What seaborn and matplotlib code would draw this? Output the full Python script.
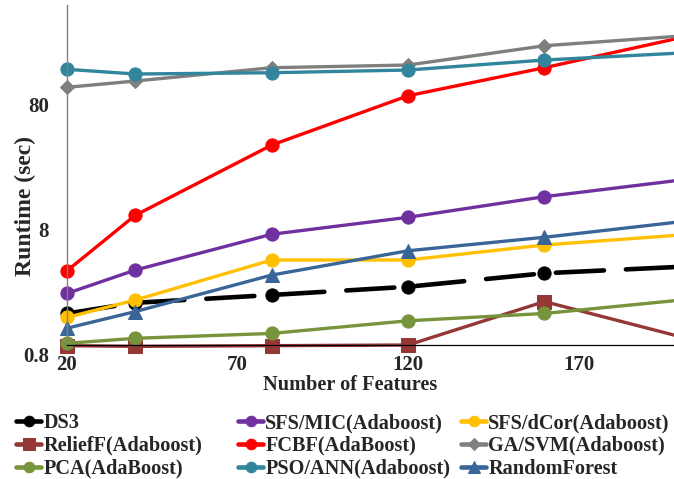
import matplotlib
matplotlib.use("Agg")
import matplotlib.pyplot as plt
from matplotlib.transforms import ScaledTranslation
import seaborn as sns
import numpy as np

# ---- data ----
features = [20, 40, 80, 120, 160, 200]
ds3 = [1.43, 1.74, 2.01, 2.34, 3.0, 3.38]
sfs_mic = [2.07, 3.18, 6.15, 8.41, 12.3, 16.7]
sfs_dcor = [1.33, 1.83, 3.83, 3.83, 5.05, 6.07]
relieff = [0.79, 0.78, 0.79, 0.80, 1.78, 0.93]
fcbf = [3.14, 8.72, 31.8, 78.9, 132.3, 230.0]
ga_svm = [92.2, 103.5, 132.3, 139.0, 198.3, 237.0]
pca = [0.825, 0.905, 0.99, 1.25, 1.43, 1.83]
pso_ann = [128.5, 117.8, 120.6, 126.8, 152.4, 173.4]
random_forest = [1.09, 1.48, 2.90, 4.54, 5.82, 7.75]

labels = ["DS3", "SFS/MIC(Adaboost)", "SFS/dCor(Adaboost)",
          "ReliefF(Adaboost)", "FCBF(AdaBoost)", "GA/SVM(Adaboost)",
          "PCA(AdaBoost)", "PSO/ANN(Adaboost)", "RandomForest"]
series = [ds3, sfs_mic, sfs_dcor, relieff, fcbf, ga_svm, pca, pso_ann, random_forest]
colors = ["#000000", "#7030A0", "#FFC000", "#953735", "#FF0000",
          "#7F7F7F", "#77933C", "#31859C", "#3A6598"]
markers = ["o", "o", "o", "s", "o", "D", "o", "o", "^"]
msizes = [9.5, 9.5, 9.5, 10, 9.5, 7.5, 9.5, 9.5, 10]

yticks = [0.8, 8, 80]
ytick_labels = ["0.8", "8", "80"]
xticks = [20, 70, 120, 170]

sns.set_style("white")
plt.rcParams["font.family"] = ["Liberation Serif", "DejaVu Serif"]
plt.rcParams["font.weight"] = "bold"

fig = plt.figure(figsize=(6.74, 4.79), dpi=100)
ax = fig.add_axes([67/674, 1-345/479, 607/674, 340/479])

handles = []
for lab, ys, c, m, ms in zip(labels, series, colors, markers, msizes):
    if lab == "DS3":
        sns.lineplot(x=features, y=ys, ax=ax, color=c, marker=m, markersize=ms,
                     markeredgecolor=c, linewidth=3.3, linestyle=(0, (10.5, 4.8)),
                     dash_capstyle="round", clip_on=False, label=lab, legend=False)
    else:
        sns.lineplot(x=features, y=ys, ax=ax, color=c, marker=m, markersize=ms,
                     markeredgecolor=c, linewidth=2.4, clip_on=False, label=lab,
                     legend=False)
    handles.append(ax.get_lines()[-1])

ax.set_yscale("log")
ax.set_ylim(0.8, 420)
ax.set_xlim(20, 198)
ax.set_yticks(yticks)
ax.set_yticklabels(ytick_labels)
ax.yaxis.set_minor_locator(matplotlib.ticker.NullLocator())
ax.set_xticks(xticks)
ax.set_xticklabels([str(v) for v in xticks])
ax.tick_params(axis="both", length=0, labelsize=15)
ax.tick_params(axis="y", pad=13)
ax.tick_params(axis="x", pad=7)
for t in ax.yaxis.get_major_ticks():
    t.label1.set_transform(t.label1.get_transform() +
                           ScaledTranslation(0, -0.09, fig.dpi_scale_trans))
    t.label1.set_fontweight("bold")
for t in ax.xaxis.get_major_ticks():
    t.label1.set_fontweight("bold")

for s in ["top", "right"]:
    ax.spines[s].set_visible(False)
ax.spines["left"].set_color("#808080")
ax.spines["left"].set_linewidth(1.0)
ax.spines["bottom"].set_color("#000000")
ax.spines["bottom"].set_linewidth(0.9)
ax.grid(False)

ax.set_xlabel("Number of Features", fontsize=14.6, fontweight="bold")
ax.xaxis.label.set_va("center")
ax.xaxis.set_label_coords((350-67)/607, -(385-345)/340)
ax.set_ylabel("Runtime (sec)", fontsize=17, fontweight="bold")
ax.yaxis.label.set_va("center")
ax.yaxis.set_label_coords((25-67)/607, (345-206)/340)

# legends: three columns, row-wise order as in the reference
col_x = [16, 238, 461]
for ci in range(3):
    hs = [handles[ci + 3*r] for r in range(3)]
    ls = [labels[ci + 3*r] for r in range(3)]
    leg = fig.legend(hs, ls, loc="upper left",
                     bbox_to_anchor=(col_x[ci]/674, 1-413/479),
                     bbox_transform=fig.transFigure, frameon=False,
                     borderpad=0, borderaxespad=0, handlelength=1.25,
                     handletextpad=0.1, labelspacing=0.14, markerscale=0.8,
                     prop={"family": ["Liberation Serif"], "weight": "bold", "size": 14.6})
    for lh in leg.legend_handles:
        lh.set_linestyle("-")
        lh.set_linewidth(3.3)

fig.savefig("out.png", dpi=100)
